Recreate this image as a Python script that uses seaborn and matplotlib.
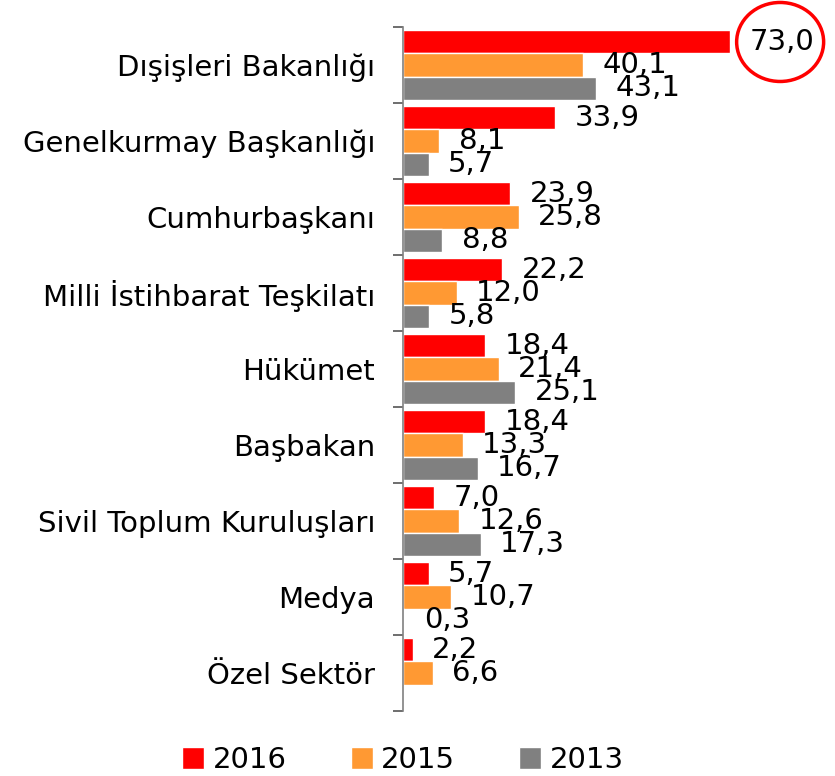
import matplotlib
matplotlib.use("Agg")
import matplotlib.pyplot as plt
import matplotlib.transforms as mtransforms
from matplotlib.patches import Ellipse
import seaborn as sns
import pandas as pd
import numpy as np

# kurumlar (yukaridan asagi)
categories = ["Dışişleri Bakanlığı", "Genelkurmay Başkanlığı", "Cumhurbaşkanı",
              "Milli İstihbarat Teşkilatı", "Hükümet", "Başbakan",
              "Sivil Toplum Kuruluşları", "Medya", "Özel Sektör"]
years = ["2016", "2015", "2013"]
vals_2016 = [73.0, 33.9, 23.9, 22.2, 18.4, 18.4, 7.0, 5.7, 2.2]
vals_2015 = [40.1, 8.1, 25.8, 12.0, 21.4, 13.3, 12.6, 10.7, 6.6]
vals_2013 = [43.1, 5.7, 8.8, 5.8, 25.1, 16.7, 17.3, 0.3, np.nan]
colors = ["#FF0000", "#FF9933", "#808080"]

rows = []
for yr, vals in zip(years, [vals_2016, vals_2015, vals_2013]):
    for c, v in zip(categories, vals):
        rows.append({"Kurum": c, "Yil": yr, "Deger": v})
df = pd.DataFrame(rows)

sns.set_style("white")
plt.rcParams["font.family"] = ["DejaVu Sans"]
plt.rcParams["text.color"] = "black"
plt.rcParams["ytick.labelcolor"] = "black"

fig = plt.figure(figsize=(8.35, 7.76), dpi=100)
ax = fig.add_axes([403 / 835, 1 - 711 / 776, 1 - 403 / 835, (711 - 27) / 776])

sns.barplot(data=df, y="Kurum", x="Deger", hue="Yil", order=categories,
            hue_order=years, palette=colors, orient="h", width=0.91,
            saturation=1, ax=ax, legend=True)

# deger etiketleri, virgullu
for cont in ax.containers:
    ax.bar_label(cont, fmt=lambda v: f"{v:.1f}".replace(".", ","),
                 padding=14, fontsize=21, color="black")

ax.set_xlim(0, 96.4)
ax.set_ylim(len(categories) - 0.5, -0.5)
ax.set_xlabel("")
ax.set_ylabel("")
ax.set_xticks([])

ax.set_yticks(range(len(categories)))
ax.set_yticklabels(categories, fontsize=21, color="black")
ax.set_yticks(np.arange(-0.5, len(categories), 1), minor=True)
ax.tick_params(axis="y", which="major", length=0, pad=20)
ax.tick_params(axis="y", which="minor", length=7, width=1.2, color="#555555",
               direction="out", left=True)

for s in ["top", "right", "bottom"]:
    ax.spines[s].set_visible(False)
ax.spines["left"].set_color("#808080")
ax.spines["left"].set_linewidth(1.2)

# 73,0 etrafinda kirmizi daire
trans = fig.dpi_scale_trans + mtransforms.ScaledTranslation(
    vals_2016[0], -0.303, ax.transData)
circ = Ellipse((0.50, 0), 0.87, 0.79, transform=trans, fill=False,
               edgecolor="#FF0000", linewidth=2.5, clip_on=False)
ax.add_patch(circ)

leg = ax.legend(loc="center", ncol=3, frameon=False, fontsize=21,
                handlelength=0.75, handleheight=0.75, handletextpad=0.3,
                columnspacing=2.2)
leg.set_bbox_to_anchor((403 / 835, 1 - 760 / 776), transform=fig.transFigure)
for t in leg.get_texts():
    t.set_color("black")

fig.savefig("out.png", dpi=100)
